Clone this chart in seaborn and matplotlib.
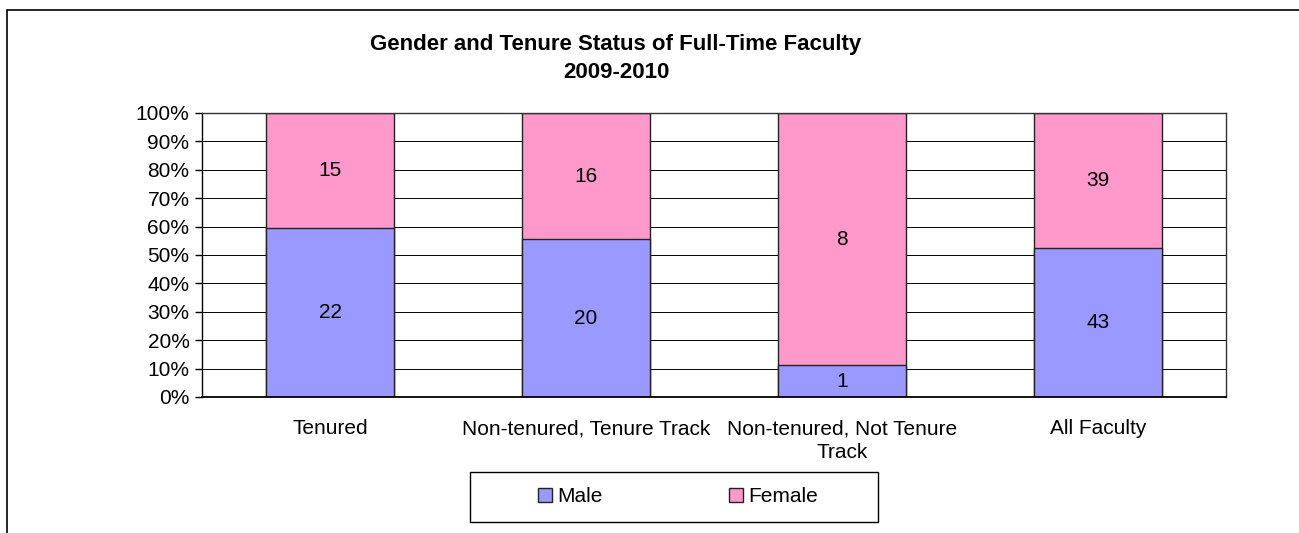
import pandas as pd
import numpy as np
import matplotlib
matplotlib.use("Agg")
import matplotlib.pyplot as plt
import matplotlib.patches as mpatches
import seaborn as sns

categories = ['Tenured', 'Non-tenured, Tenure Track', 'Non-tenured, Not Tenure\nTrack', 'All Faculty']
male = [22, 20, 1, 43]
female = [15, 16, 8, 39]

df = pd.DataFrame({'category': categories, 'Male': male, 'Female': female})
df['total'] = df['Male'] + df['Female']
df['male_pct'] = df['Male'] / df['total'] * 100
df['all_pct'] = 100.0

sns.set_style('white')
plt.rcParams['font.family'] = ['Liberation Sans', 'DejaVu Sans']
plt.rcParams['text.color'] = 'black'
plt.rcParams['xtick.color'] = 'black'
plt.rcParams['ytick.color'] = 'black'

male_col = '#9999FF'
female_col = '#FF99CC'
fs = 15

fig = plt.figure(figsize=(12.99, 5.33), dpi=100)
ax = fig.add_axes([202/1299, 1-397/533, (1226-202)/1299, (397-113)/533])

# gridlines first
ax.set_axisbelow(True)
ax.yaxis.grid(True, color='black', lw=0.7)

sns.barplot(data=df, x='category', y='all_pct', color=female_col, width=0.5,
            edgecolor='#222222', linewidth=1, saturation=1, ax=ax)
sns.barplot(data=df, x='category', y='male_pct', color=male_col, width=0.5,
            edgecolor='#222222', linewidth=1, saturation=1, ax=ax)

# counts in the segments
for i, row in df.iterrows():
    ax.text(i, row['male_pct'] / 2, str(row['Male']), ha='center', va='center', fontsize=fs)
    ax.text(i, (row['male_pct'] + 100) / 2, str(row['Female']), ha='center', va='center', fontsize=fs)

ax.set_xlim(-0.5, 3.5)
ax.set_ylim(0, 100)
ax.set_yticks(np.arange(0, 101, 10))
ax.set_yticklabels([f'{v}%' for v in range(0, 101, 10)], fontsize=fs)
ax.set_xticks(range(4))
ax.set_xticklabels(categories, fontsize=fs, linespacing=1.35)
ax.set_xticks(np.arange(-0.5, 4, 1), minor=True)
ax.tick_params(axis='x', which='major', length=0, pad=16)
ax.tick_params(axis='x', which='minor', length=5, width=1, color='black', direction='out')
ax.tick_params(axis='y', length=5, width=1, color='black', direction='out', left=True, pad=4)
ax.set_xlabel('')
ax.set_ylabel('')
for s in ax.spines.values():
    s.set_visible(True)
    s.set_color('#333333')
    s.set_linewidth(1)
ax.spines['left'].set_color('black')
ax.spines['bottom'].set_color('black')
ax.spines['bottom'].set_linewidth(1.3)

fig.text(616/1299, 1-45/533, 'Gender and Tenure Status of Full-Time Faculty', ha='center', va='center',
         fontsize=16, fontweight='bold')
fig.text(616/1299, 1-72/533, '2009-2010', ha='center', va='center', fontsize=16, fontweight='bold')

# legend (frame drawn separately to get the wide Excel-style box)
handles = [mpatches.Patch(facecolor=male_col, edgecolor='#222222', label='Male'),
           mpatches.Patch(facecolor=female_col, edgecolor='#222222', label='Female')]
fig.legend(handles=handles, loc='center', bbox_to_anchor=(678/1299, 1-497/533), ncol=2,
           fontsize=fs, frameon=False, handlelength=0.65, handleheight=0.65,
           handletextpad=0.25, columnspacing=6.1, borderpad=0, borderaxespad=0)
fig.patches.append(mpatches.Rectangle((470/1299, 1-522/533), 408/1299, 50/533, transform=fig.transFigure,
                                      fill=False, edgecolor='black', lw=1))

# outer chart border
fig.patches.append(mpatches.Rectangle((7/1299, -0.1), 1.2, 1 - 10/533 + 0.1, transform=fig.transFigure,
                                      fill=False, edgecolor='black', lw=1.2))

fig.savefig('out.png', dpi=100)
